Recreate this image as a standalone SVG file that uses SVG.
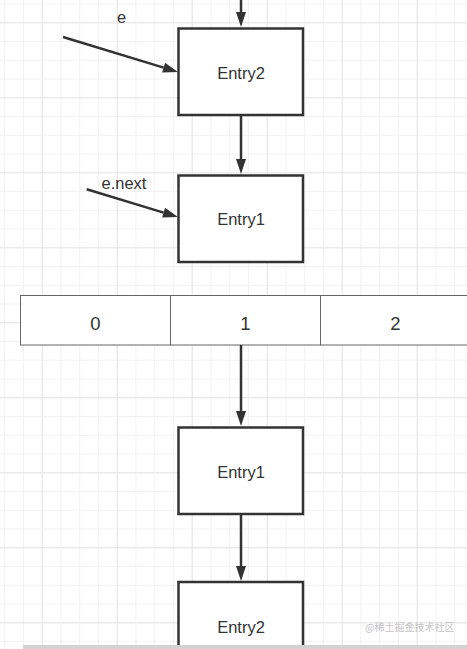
<svg xmlns="http://www.w3.org/2000/svg" width="467" height="649" viewBox="0 0 467 649">
  <defs>
    <pattern id="minor" patternUnits="userSpaceOnUse" x="4.2" y="3.5" width="18.75" height="18.75">
      <path d="M0 0.5H18.75M0.5 0V18.75" stroke="#f2f2f2" stroke-width="1" fill="none"/>
    </pattern>
    <pattern id="major" patternUnits="userSpaceOnUse" x="41.7" y="22.3" width="75" height="75">
      <path d="M0 0.5H75M0.5 0V75" stroke="#e6e6e6" stroke-width="1" fill="none"/>
    </pattern>
    <marker id="arrow" markerUnits="userSpaceOnUse" markerWidth="16" markerHeight="12" refX="0" refY="5" orient="auto" overflow="visible">
      <path d="M0 0L15 5L0 10z" fill="#333"/>
    </marker>
    <style>
      .box { fill: #fff; stroke: #333; stroke-width: 2.5; }
      .cell { fill: #fff; stroke: #666; stroke-width: 1; }
      .lbl { font-family: "Liberation Sans", Arial, "Noto Sans CJK SC", sans-serif; font-size: 16.5px; fill: #333; }
      .num { font-family: "Liberation Sans", Arial, sans-serif; font-size: 18.5px; fill: #333; text-anchor: middle; }
      .conn { stroke: #333; stroke-width: 2.5; fill: none; marker-end: url(#arrow); }
    </style>
  </defs>
  <rect width="467" height="649" fill="#fff"/>
  <rect width="467" height="649" fill="url(#minor)"/>
  <rect width="467" height="649" fill="url(#major)"/>

  <g id="array">
    <rect class="cell" x="20.5" y="295.5" width="150" height="49.5"/>
    <rect class="cell" x="170.5" y="295.5" width="150" height="49.5"/>
    <rect class="cell" x="320.5" y="295.5" width="150" height="49.5"/>
    <text class="num" x="95.5" y="330">0</text>
    <text class="num" x="245.5" y="330">1</text>
    <text class="num" x="395.5" y="330">2</text>
  </g>

  <g id="entry2-top">
    <rect class="box" x="178.5" y="28.5" width="124.5" height="86.5"/>
    <text class="lbl" x="241" y="79" text-anchor="middle">Entry2</text>
  </g>
  <g id="entry1-top">
    <rect class="box" x="178.5" y="175.5" width="124.5" height="86.5"/>
    <text class="lbl" x="241" y="225" text-anchor="middle">Entry1</text>
  </g>
  <g id="entry1-bottom">
    <rect class="box" x="178.5" y="427.5" width="124.5" height="86.5"/>
    <text class="lbl" x="241" y="478" text-anchor="middle">Entry1</text>
  </g>
  <g id="entry2-bottom">
    <rect class="box" x="178.5" y="582" width="124.5" height="120"/>
    <text class="lbl" x="241" y="633" text-anchor="middle">Entry2</text>
  </g>

  <g id="labels">
    <text class="lbl" x="121.5" y="23" text-anchor="middle">e</text>
    <text class="lbl" x="101.5" y="189">e.next</text>
  </g>

  <g id="connectors">
    <line class="conn" x1="241" y1="0" x2="241" y2="12"/>
    <line class="conn" x1="241" y1="116" x2="241" y2="159"/>
    <line class="conn" x1="241" y1="345" x2="241" y2="411"/>
    <line class="conn" x1="241" y1="515" x2="241" y2="566"/>
    <line class="conn" x1="63" y1="37" x2="163.6" y2="67.6"/>
    <line class="conn" x1="86.7" y1="189.3" x2="163.6" y2="212.6"/>
  </g>

  <text x="365" y="631" font-family="'Noto Sans CJK SC', sans-serif" font-size="10" fill="#c4c4c4">@稀土掘金技术社区</text>
  <rect x="23" y="645" width="444" height="4" fill="#d2d2d2"/>
</svg>
